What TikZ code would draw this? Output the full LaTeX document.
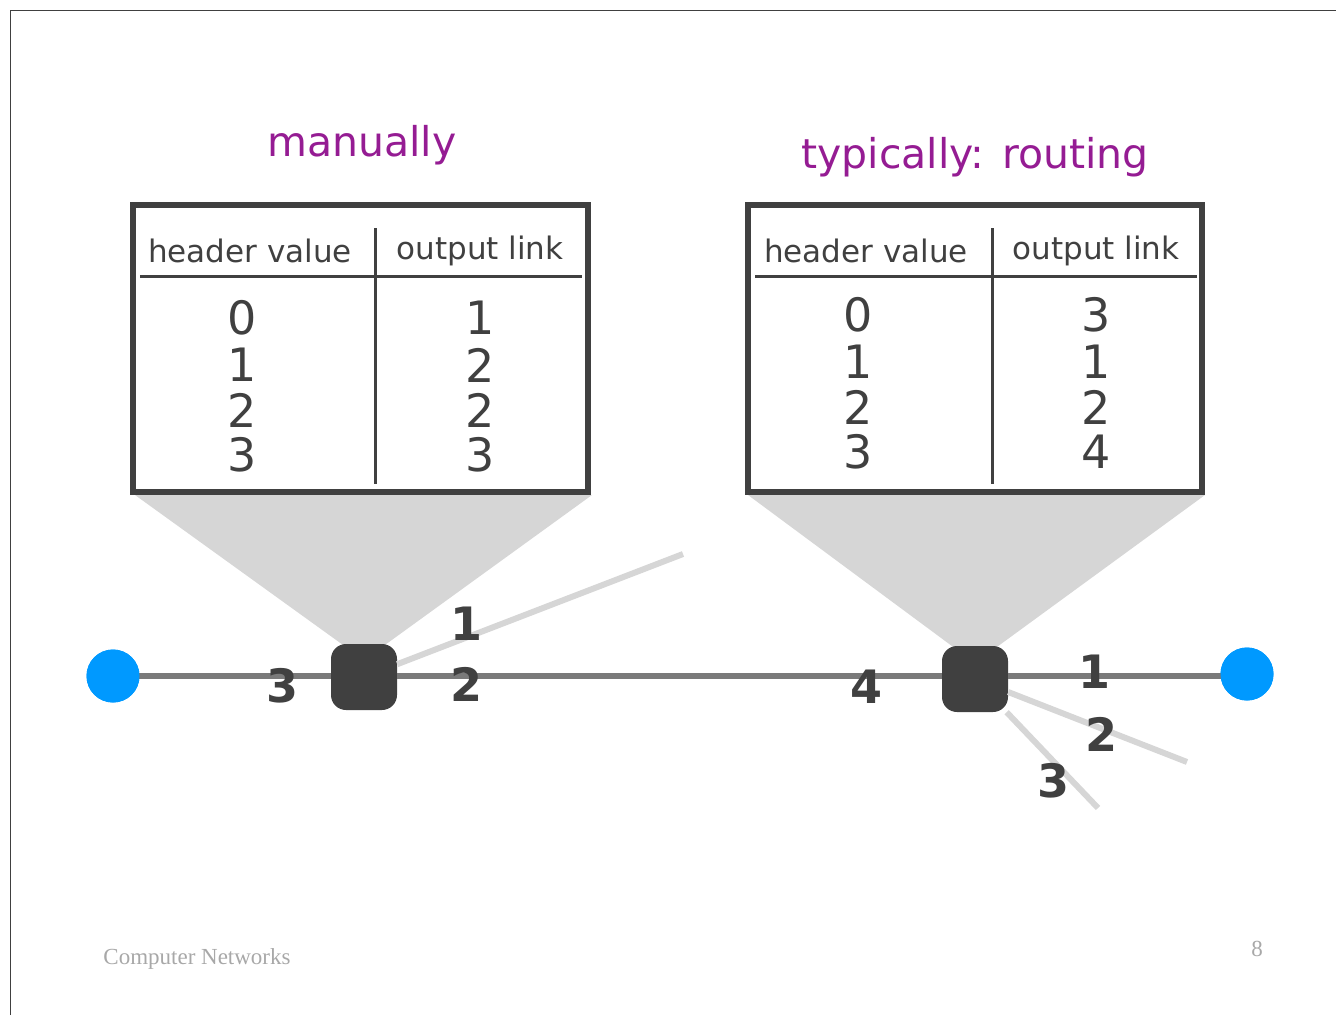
\documentclass[tikz,border=0pt]{standalone}
\usepackage{fontspec}
\setmainfont{DejaVu Sans}
\newfontfamily\footfont{Liberation Serif}
\definecolor{ink}{HTML}{404040}
\definecolor{titlec}{HTML}{951C93}
\definecolor{linkc}{HTML}{7A7A7A}
\definecolor{fadec}{HTML}{D6D6D6}
\definecolor{hostc}{HTML}{0099FF}
\definecolor{footc}{HTML}{A8A8A8}
\tikzset{
  titletxt/.style={text=titlec, font=\fontsize{41}{44}\selectfont, inner sep=0pt},
  headtxt/.style={text=ink, font=\fontsize{31}{34}\selectfont, inner sep=0pt},
  digtxt/.style={text=ink, font=\fontsize{46}{46}\selectfont, inner sep=0pt},
  porttxt/.style={text=ink, font=\bfseries\fontsize{46}{46}\selectfont, inner sep=0pt},
  foottxt/.style={text=footc, font=\footfont\fontsize{23}{26}\selectfont, inner sep=0pt},
  tableframe/.style={draw=ink, line width=6pt},
  tablerule/.style={draw=ink, line width=3pt},
  router/.style={fill=ink, rounded corners=15pt, minimum width=66pt, minimum height=66pt, inner sep=0pt},
  host/.style={circle, fill=hostc, minimum size=53pt, inner sep=0pt},
  mainlink/.style={draw=linkc, line width=6pt},
  sidelink/.style={draw=fadec, line width=6pt},
  zoomcone/.style={fill=fadec},
}
\begin{document}
\begin{tikzpicture}[x=1pt,y=-1pt]
\useasboundingbox (0,0) rectangle (1336,1015);
% slide frame
\draw[ink, line width=1.2pt] (10.5,1015) -- (10.5,10.5) -- (1336,10.5);

% titles
\node[titletxt] (t1) at (362,145) {manually};
\node[titletxt] (t2) at (975,157) {typically: routing};

% zoom cones
\fill[zoomcone] (135,495) -- (592,495) -- (378,650) -- (350,650) -- cycle;
\fill[zoomcone] (748,495) -- (1205,495) -- (990,652) -- (960,652) -- cycle;

% left table
\draw[tableframe] (133,205) rectangle (588,492);
\draw[tablerule] (140,276) -- (582,276);
\draw[tablerule] (375,228) -- (375,484);
\node[headtxt] (lh1) at (250,251) {header value};
\node[headtxt] (lh2) at (480,251) {output link};
\foreach \v/\w/\y [count=\i] in {0/1/318,1/2/365,2/2/410,3/3/455}{
  \node[digtxt] (la\i) at (242,\y) {\v};
  \node[digtxt] (lb\i) at (480,\y) {\w};
}

% right table
\draw[tableframe] (748,205) rectangle (1202,492);
\draw[tablerule] (755,276) -- (1197,276);
\draw[tablerule] (992,228) -- (992,484);
\node[headtxt] (rh1) at (866,251) {header value};
\node[headtxt] (rh2) at (1096,251) {output link};
\foreach \v/\w/\y [count=\i] in {0/3/315,1/1/362,2/2/407,3/4/452}{
  \node[digtxt] (ra\i) at (858,\y) {\v};
  \node[digtxt] (rb\i) at (1096,\y) {\w};
}

% network
\coordinate (e1) at (683,554);
\coordinate (e2) at (1187,762);
\coordinate (e3) at (1098,808);
\node[router] (r1) at (364,677) {};
\node[router] (r2) at (975,679) {};
\node[host] (h1) at (113,676) {};
\node[host] (h2) at (1247,674) {};
\draw[mainlink] (h1.center) -- (r1.west |- h1.center);
\draw[mainlink] (r1.east |- h1.center) -- (r2.west |- h1.center);
\draw[mainlink] (r2.east |- h1.center) -- (h2.center |- h1.center);
\draw[sidelink] (r1) -- (e1);
\draw[sidelink] (r2) -- (e2);
\draw[sidelink] (r2) -- (e3);
\fill[hostc] (h1) circle (26.5pt);
\fill[hostc] (h2) circle (26.5pt);

% port labels
\node[porttxt] (p13) at (283,686) {3};
\node[porttxt] (p11) at (466,624) {1};
\node[porttxt] (p12) at (466,684) {2};
\node[porttxt] (p24) at (866,687) {4};
\node[porttxt] (p21) at (1094,672) {1};
\node[porttxt] (p22) at (1101,734) {2};
\node[porttxt] (p23) at (1053,781) {3};

% footer
\node[foottxt] (foot) at (197,959) {Computer Networks};
\node[foottxt] (page) at (1257,949) {8};
\end{tikzpicture}
\end{document}
